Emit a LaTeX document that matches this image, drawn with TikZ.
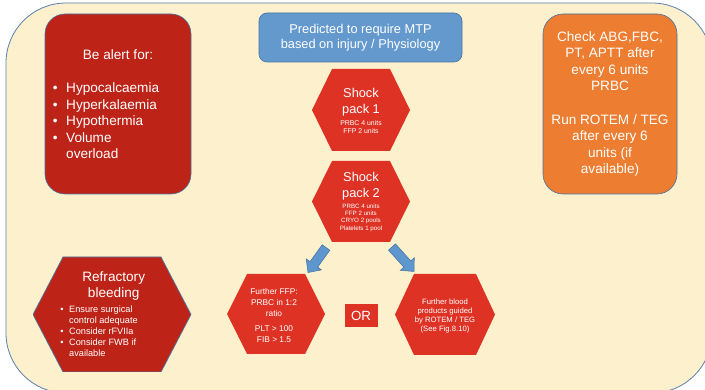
\documentclass[tikz,border=0pt]{standalone}
\usepackage{fontspec}
\setmainfont{Liberation Sans}
\usetikzlibrary{calc}

\definecolor{cream}{HTML}{FDF0CC}
\definecolor{frameline}{HTML}{5B80AE}
\definecolor{alertred}{HTML}{BE2318}
\definecolor{hexred}{HTML}{DE3225}
\definecolor{skyblue}{HTML}{6499CE}
\definecolor{boxedge}{HTML}{4A74A3}
\definecolor{orangebox}{HTML}{EC7D31}
\definecolor{arrowblue}{HTML}{5E96CE}
\definecolor{arrowedge}{HTML}{41719C}

% font size / baseline skip
\newcommand\txtsize[2]{\fontsize{#1}{#2}\selectfont}
% bullet item: bullet in a box of width #1, then the text #2
\newcommand\bul[2]{\makebox[#1][l]{\textbullet}#2}

\tikzset{
  hexfill/.store in=\hexfill, hexfill=hexred,
  hexline/.store in=\hexline, hexline=none,
  hexcut/.store in=\hexcut, hexcut=20pt,
  hexagon/.style={rectangle, inner sep=0pt,
    path picture={
      \path[fill=\hexfill, draw=\hexline, line width=0.7pt]
        (path picture bounding box.west)
        -- ([xshift=\hexcut]path picture bounding box.north west)
        -- ([xshift=-\hexcut]path picture bounding box.north east)
        -- (path picture bounding box.east)
        -- ([xshift=-\hexcut]path picture bounding box.south east)
        -- ([xshift=\hexcut]path picture bounding box.south west)
        -- cycle;}},
  txt/.style={inner sep=0pt, text=white, align=center},
  roundbox/.style={rectangle, rounded corners=#1, draw=boxedge, line width=0.6pt,
    inner sep=0pt, text=white, align=center},
}

% block arrow from tail coordinate #1 to tip coordinate #2
\newcommand\blockarrow[2]{%
  \coordinate (#1-#2-base) at ($(#2)!10pt!(#1)$);
  \path[fill=arrowblue, draw=arrowedge, line width=0.5pt, line join=miter]
    ($(#1)!4.7pt!90:(#2)$) -- ($(#1-#2-base)!4.7pt!90:(#2)$)
    -- ($(#1-#2-base)!9.4pt!90:(#2)$) -- (#2)
    -- ($(#1-#2-base)!9.4pt!-90:(#2)$) -- ($(#1-#2-base)!4.7pt!-90:(#2)$)
    -- ($(#1)!4.7pt!-90:(#2)$) -- cycle;}

\begin{document}
\begin{tikzpicture}[x=1pt,y=-1pt]
\useasboundingbox (0,0) rectangle (705,390);
\fill[white] (0,0) rectangle (705,390);

% background panel
\begin{scope}
  \clip (0,0) rectangle (705,390);
  \draw[fill=cream, draw=frameline, line width=0.8pt, rounded corners=60pt]
    (6,3) rectangle (712,393);
\end{scope}

% warnings box
\node[roundbox=20pt, fill=alertred, minimum width=146pt, minimum height=180pt] (alert) at (118,104) {};
\node[txt, font=\txtsize{13.6}{16.5}] (alert-title) at (118,54.5) {Be alert for:};
\node[txt, align=left, anchor=west, font=\txtsize{13.6}{16.5}] (alert-list) at (52.6,121)
  {\bul{13.4pt}{Hypocalcaemia}\\\bul{13.4pt}{Hyperkalaemia}\\\bul{13.4pt}{Hypothermia}\\\bul{13.4pt}{Volume}\\\hspace*{13.4pt}overload};

% trigger box
\node[roundbox=8pt, fill=skyblue, minimum width=203pt, minimum height=49pt,
      font=\txtsize{12.8}{15}] (mtp) at (360.5,37.5)
  {Predicted to require MTP\\based on injury / Physiology};

% monitoring box
\node[roundbox=20pt, fill=orangebox, minimum width=134pt, minimum height=180pt,
      font=\txtsize{13.6}{16.6}] (monitor) at (610,104)
  {Check ABG,FBC,\\PT, APTT after\\every 6 units\\PRBC\\[16.6pt]Run ROTEM / TEG\\after every 6\\units (if\\available)};

% shock pack 1
\node[hexagon, minimum width=98pt, minimum height=82pt] (sp1) at (361,110) {};
\node[txt, font=\txtsize{12.8}{16}] (sp1-title) at (361,102) {Shock\\pack 1};
\node[txt, font=\txtsize{6.9}{8.8}] (sp1-units) at (361,127) {PRBC 4 units\\FFP 2 units};

% shock pack 2
\node[hexagon, minimum width=98pt, minimum height=81pt] (sp2) at (361,201.5) {};
\node[txt, font=\txtsize{12.8}{16}] (sp2-title) at (361,186) {Shock\\pack 2};
\node[txt, font=\txtsize{6.2}{7.3}] (sp2-units) at (361,217.5) {PRBC 4 units\\FFP 2 units\\CRYO 2 pools\\Platelets 1 pool};

% further FFP
\node[hexagon, minimum width=98pt, minimum height=80pt] (ffp) at (276,314) {};
\node[txt, font=\txtsize{8.35}{10.6}] (ffp-ratio) at (274,302.5) {Further FFP:\\PRBC in 1:2\\ratio};
\node[txt, font=\txtsize{8.35}{11}] (ffp-limits) at (274,334) {PLT > 100\\FIB > 1.5};

% either/or marker
\node[rectangle, fill=hexred, minimum width=33pt, minimum height=23pt, inner sep=0pt,
      text=white, font=\txtsize{13.3}{16}] (or) at (361,315.5) {OR};

% further blood products
\node[hexagon, minimum width=100pt, minimum height=81pt, hexcut=19pt] (rotem) at (445,314.5) {};
\node[txt, font=\txtsize{7.7}{9.1}] (rotem-text) at (445,316) {Further blood\\products guided\\by ROTEM / TEG\\(See Fig.8.10)};

% refractory bleeding
\node[hexagon, hexfill=alertred, hexline=boxedge, hexcut=30pt,
      minimum width=158pt, minimum height=115pt] (refr) at (112,314.5) {};
\node[txt, font=\txtsize{13.6}{16}] (refr-title) at (113.7,285.5) {Refractory\\bleeding};
\node[txt, align=left, anchor=west, font=\txtsize{9.2}{11}] (refr-list) at (60.1,331.5)
  {\bul{8.9pt}{Ensure surgical}\\\hspace*{8.9pt}control adequate\\\bul{8.9pt}{Consider rFVIIa}\\\bul{8.9pt}{Consider FWB if}\\\hspace*{8.9pt}available};

% arrows from shock pack 2 to the two options
\coordinate (tailL) at (326,247.5);
\coordinate (tipL) at (308,272.5);
\coordinate (tailR) at (392,247);
\coordinate (tipR) at (414,271.5);
\blockarrow{tailL}{tipL}
\blockarrow{tailR}{tipR}
\end{tikzpicture}
\end{document}
